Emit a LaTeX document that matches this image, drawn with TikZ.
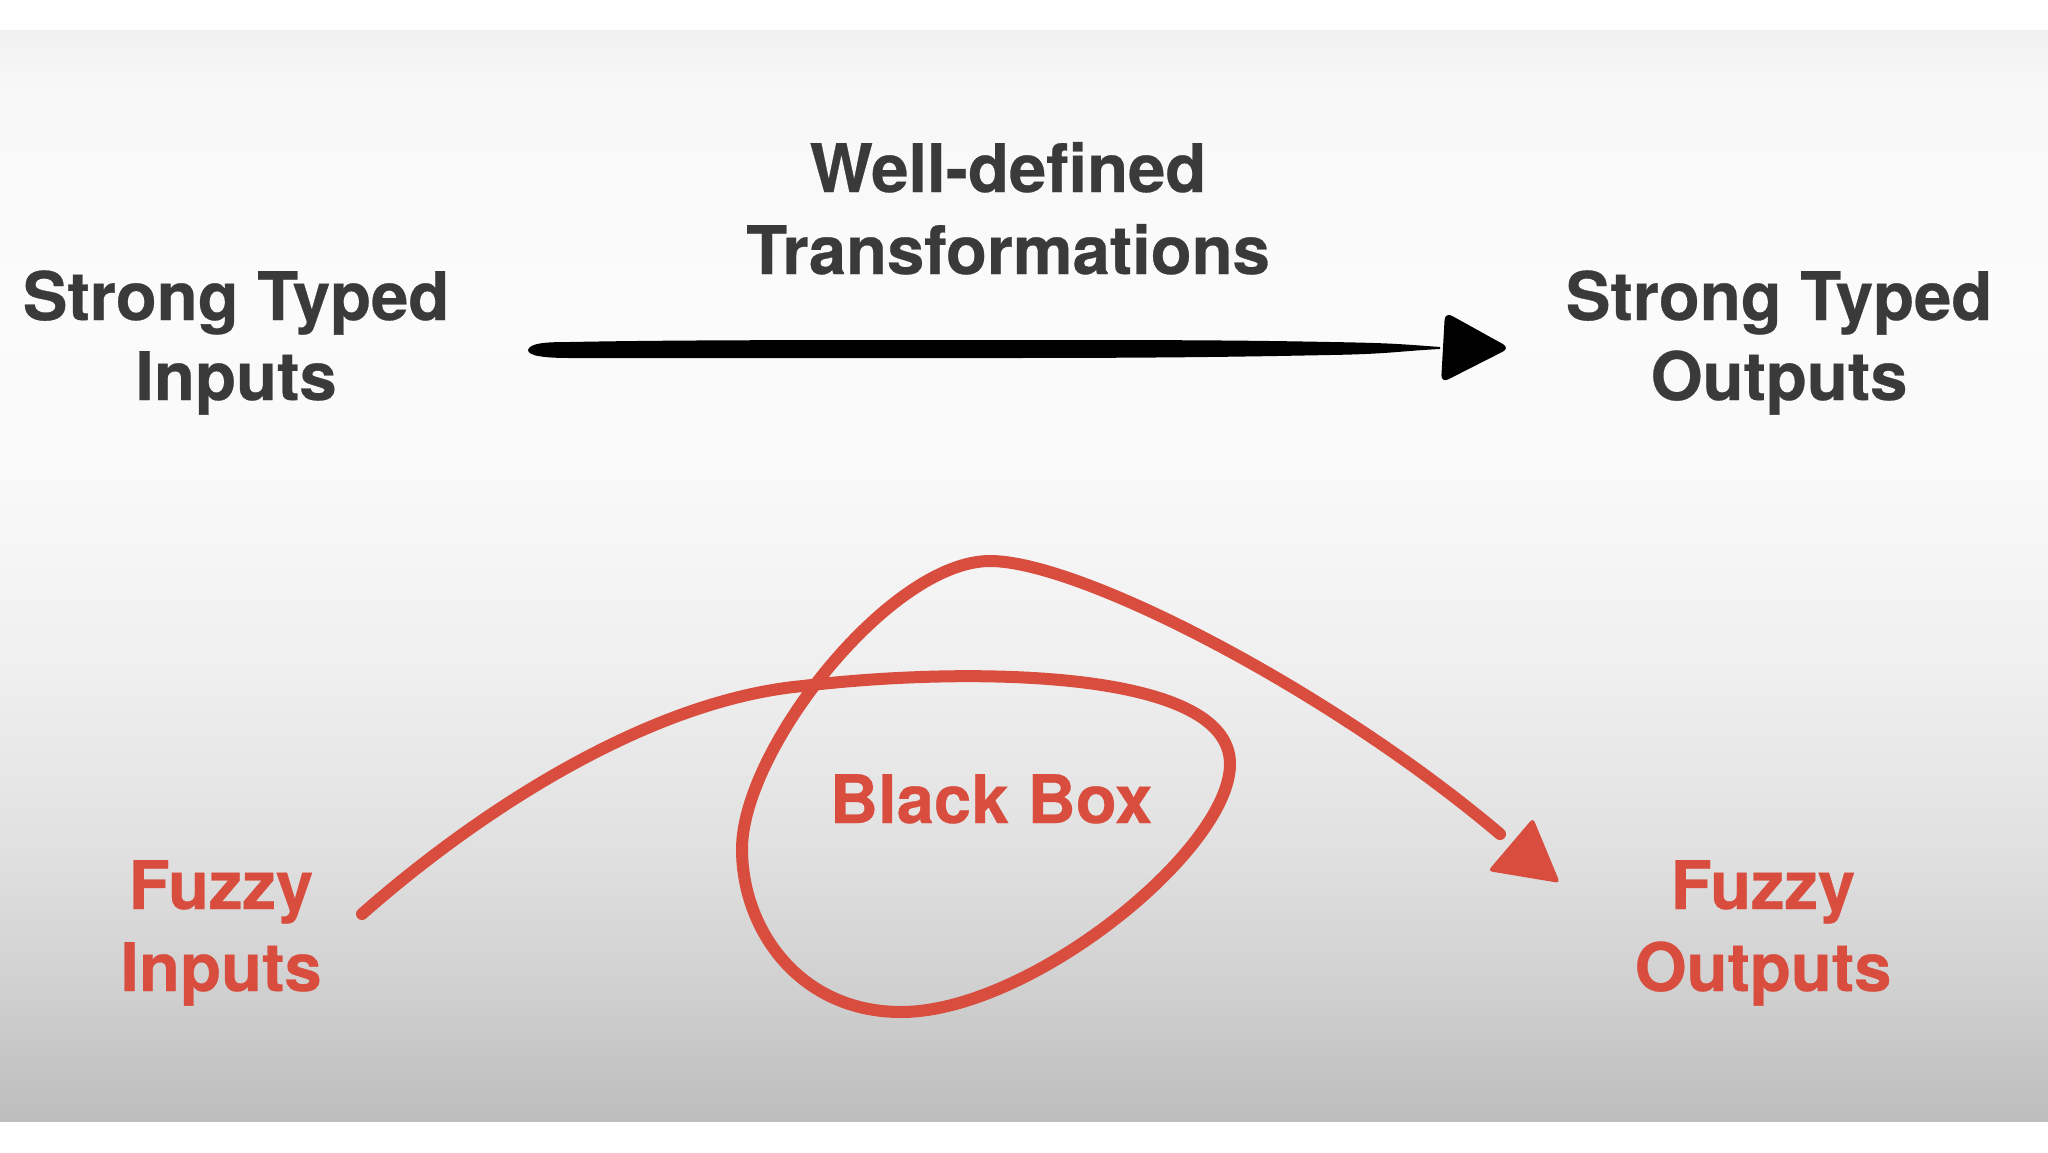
\documentclass[tikz,border=0pt]{standalone}
\usepackage{fontspec}
\setmainfont{TeX Gyre Heros}[BoldFeatures={FakeBold=0.4}]
\definecolor{darktxt}{RGB}{58,58,58}
\definecolor{penred}{RGB}{216,77,62}
\begin{document}
\begin{tikzpicture}[x=1pt,y=-1pt,
  lab/.style={font=\bfseries\fontsize{67}{80}\selectfont, text=darktxt, inner sep=0pt, anchor=base},
  redlab/.style={lab, text=penred},
  redpen/.style={draw=penred, line width=12pt, line cap=round, line join=round}]
\useasboundingbox (0,0) rectangle (2048,1152);
\fill[white] (0,0) rectangle (2048,1152);
% background gradient band
\shade[top color=black!6, bottom color=black!3] (0,30) rectangle (2048,81);
\shade[top color=black!3, bottom color=black!1.5] (0,80) rectangle (2048,301);
\shade[top color=black!1.5, bottom color=black!2.5] (0,300) rectangle (2048,481);
\shade[top color=black!2.5, bottom color=black!6] (0,480) rectangle (2048,661);
\shade[top color=black!6, bottom color=black!12] (0,660) rectangle (2048,851);
\shade[top color=black!12, bottom color=black!19] (0,850) rectangle (2048,1001);
\shade[top color=black!19, bottom color=black!26] (0,1000) rectangle (2048,1121);

% labels
\node[lab] (wd1) at (1008,192) {Well-defined};
\node[lab] (wd2) at (1008,274) {Transformations};
\node[lab] (sti1) at (236,320) {Strong Typed};
\node[lab] (sti2) at (236,400) {Inputs};
\node[lab] (sto1) at (1779,320) {Strong Typed};
\node[lab] (sto2) at (1779,400) {Outputs};
\node[redlab] (bb) at (991,823) {Black Box};
\node[redlab] (fi1) at (221,909) {Fuzzy};
\node[redlab] (fi2) at (221,991) {Inputs};
\node[redlab] (fo1) at (1763,909) {Fuzzy};
\node[redlab] (fo2) at (1763,991) {Outputs};

% black brush arrow
\coordinate (bs) at (528,350);
\coordinate (bt) at (1510,348);
\fill[black] (bs) .. controls ++(2,-7) and ++(-25,0) .. ++(42,-8)
  .. controls ++(100,-2) and ++(-200,0) .. ++(430,-2)
  .. controls ++(150,0) and ++(-100,-2) .. ++(330,2)
  .. controls ++(60,1) and ++(-40,-3) .. ++(110,5)
  -- ++(0,2)
  .. controls ++(-40,2) and ++(60,-1) .. ++(-110,6)
  .. controls ++(-100,2) and ++(150,0) .. ++(-330,3)
  .. controls ++(-200,0) and ++(100,0) .. ++(-430,0)
  .. controls ++(-25,0) and ++(0,6) .. cycle;
\fill[black, rounded corners=8pt] (bt) -- ++(-65,-36) -- ++(-4,71) -- cycle;

% red looping arrow
\coordinate (rs) at (362,914);
\coordinate (re) at (1500,834);
\draw[redpen] (rs)
  .. controls (480,810) and (650,700) .. (803,686)
  .. controls (950,668) and (1230,665) .. (1230,764)
  .. controls (1230,850) and (1030,1012) .. (901,1012)
  .. controls (800,1012) and (742,930) .. (742,849)
  .. controls (742,750) and (890,561) .. (990,561)
  .. controls (1080,561) and (1330,690) .. (re);
\fill[penred, rounded corners=4pt] (1560,883) -- (1533,818) -- (1488,871) -- cycle;
\end{tikzpicture}
\end{document}
